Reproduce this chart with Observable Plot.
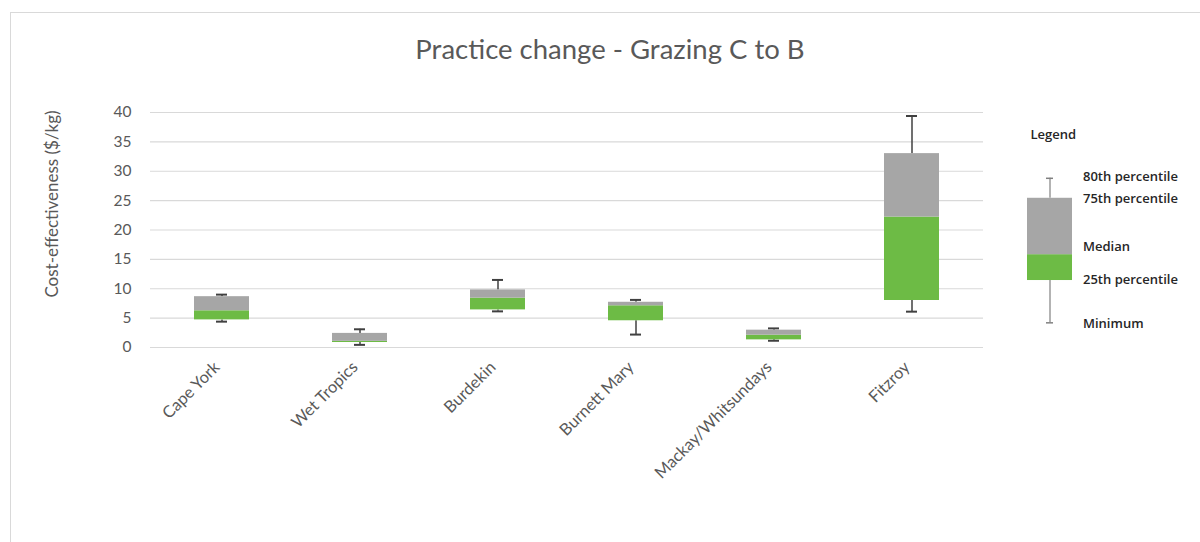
<!DOCTYPE html>
<html>
<head>
<meta charset="utf-8">
<script src="https://cdn.jsdelivr.net/npm/d3@7"></script>
<script src="https://cdn.jsdelivr.net/npm/@observablehq/plot@0.6"></script>
<style>
  html, body { margin: 0; padding: 0; background: #fff; }
  #wrap { position: relative; width: 1200px; height: 542px; overflow: hidden; background: #fff; font-family: Lato, "Open Sans", sans-serif; }
  #frame { position: absolute; left: 10px; top: 12px; width: 1200px; height: 540px; border: 1px solid #D9D9D9; box-sizing: border-box; }
  #title { position: absolute; top: 32px; left: 0; width: 1220px; text-align: center; font-size: 27.5px; color: #595959; }
  #main { position: absolute; left: 0; top: 0; }
  #legend { position: absolute; left: 1000px; top: 0; }
</style>
</head>
<body>
<div id="wrap">
  <div id="frame"></div>
  <div id="title">Practice change - Grazing C to B</div>
  <div id="main"></div>
  <div id="legend"></div>
</div>
<script>
// Data (cost-effectiveness, $/kg)
const regions  = ["Cape York", "Wet Tropics", "Burdekin", "Burnett Mary", "Mackay/Whitsundays", "Fitzroy"];
const minimum  = [4.4, 0.45, 6.15, 2.2, 1.15, 6.1];
const p25      = [4.7, 0.85, 6.4, 4.55, 1.3, 8.0];
const median   = [6.25, 1.05, 8.4, 7.1, 2.1, 22.2];
const p75      = [8.65, 2.4, 9.8, 7.7, 2.95, 33.0];
const p80      = [9.0, 3.1, 11.5, 8.1, 3.25, 39.4];
const yTicks   = [0, 5, 10, 15, 20, 25, 30, 35, 40];

// Legend example box (drawn on the same y scale)
const legendMin = 4.2, legendP25 = 11.4, legendMedian = 15.8, legendP75 = 25.4, legendP80 = 28.8;
const legendLabels = ["80th percentile", "75th percentile", "Median", "25th percentile", "Minimum"];
const legendLabelValues = [29.0, 25.3, 17.2, 11.6, 4.0];

const GRAY = "#A6A6A6", GREEN = "#6DBB45", WHISK = "#404040";

const data = regions.map((r, i) => ({
  region: r, min: minimum[i], q1: p25[i], med: median[i], q3: p75[i], p80: p80[i]
}));

const main = Plot.plot({
  width: 1000,
  height: 542,
  marginTop: 112,
  marginBottom: 195,
  marginLeft: 150,
  marginRight: 17,
  style: { fontFamily: "Lato, 'Open Sans', sans-serif", color: "#595959", background: "transparent" },
  x: { domain: regions, paddingInner: 0.6, paddingOuter: 0.3, label: null },
  y: { domain: [0, 40], label: null },
  marks: [
    Plot.ruleY(yTicks, { stroke: "#D9D9D9", strokeWidth: 1.2 }),
    Plot.axisY({ ticks: yTicks, tickSize: 0, tickPadding: 19, fontSize: 15.5, label: null, fill: "#595959" }),
    Plot.axisX({ tickSize: 0, tickPadding: 17, dx: -5, tickRotate: -45, fontSize: 16.5, label: null, fill: "#595959" }),
    Plot.text(["Cost-effectiveness ($/kg)"], {
      frameAnchor: "left", dx: -98, dy: -26, rotate: -90, textAnchor: "middle", fontSize: 17, fill: "#595959"
    }),
    Plot.ruleX(data, { x: "region", y1: "q3", y2: "p80", stroke: WHISK, strokeWidth: 1.5 }),
    Plot.ruleX(data, { x: "region", y1: "min", y2: "q1", stroke: WHISK, strokeWidth: 1.5 }),
    Plot.tickY(data, { x: "region", y: "p80", stroke: WHISK, strokeWidth: 2, insetLeft: 22, insetRight: 22 }),
    Plot.tickY(data, { x: "region", y: "min", stroke: WHISK, strokeWidth: 2, insetLeft: 22, insetRight: 22 }),
    Plot.barY(data, { x: "region", y1: "q1", y2: "med", fill: GREEN }),
    Plot.barY(data, { x: "region", y1: "med", y2: "q3", fill: GRAY })
  ]
});
document.getElementById("main").appendChild(main);

const lg = [{ k: "Legend", min: legendMin, q1: legendP25, med: legendMedian, q3: legendP75, p80: legendP80 }];
const labels = legendLabels.map((t, i) => ({ k: "Legend", t, v: legendLabelValues[i] }));

const legend = Plot.plot({
  width: 200,
  height: 542,
  marginTop: 112,
  marginBottom: 195,
  marginLeft: 0,
  marginRight: 0,
  style: { fontFamily: "'Open Sans', Lato, sans-serif", background: "transparent" },
  x: { domain: ["Legend"], range: [27, 72], padding: 0, axis: null },
  y: { domain: [0, 40], axis: null },
  marks: [
    Plot.text(["Legend"], { frameAnchor: "top-left", dx: 30, dy: 17, fontSize: 13, fontWeight: 600, fill: "#262626" }),
    Plot.ruleX(lg, { x: "k", y1: "q3", y2: "p80", stroke: "#808080", strokeWidth: 1.2 }),
    Plot.ruleX(lg, { x: "k", y1: "min", y2: "q1", stroke: "#808080", strokeWidth: 1.2 }),
    Plot.tickY(lg, { x: "k", y: "p80", stroke: "#808080", strokeWidth: 1.5, insetLeft: 19, insetRight: 19 }),
    Plot.tickY(lg, { x: "k", y: "min", stroke: "#808080", strokeWidth: 1.5, insetLeft: 19, insetRight: 19 }),
    Plot.barY(lg, { x: "k", y1: "q1", y2: "med", fill: GREEN }),
    Plot.barY(lg, { x: "k", y1: "med", y2: "q3", fill: GRAY }),
    Plot.text(labels, { x: "k", y: "v", text: "t", dx: 33, textAnchor: "start", fontSize: 13, fontWeight: 600, fill: "#262626" })
  ]
});
document.getElementById("legend").appendChild(legend);
</script>
</body>
</html>
